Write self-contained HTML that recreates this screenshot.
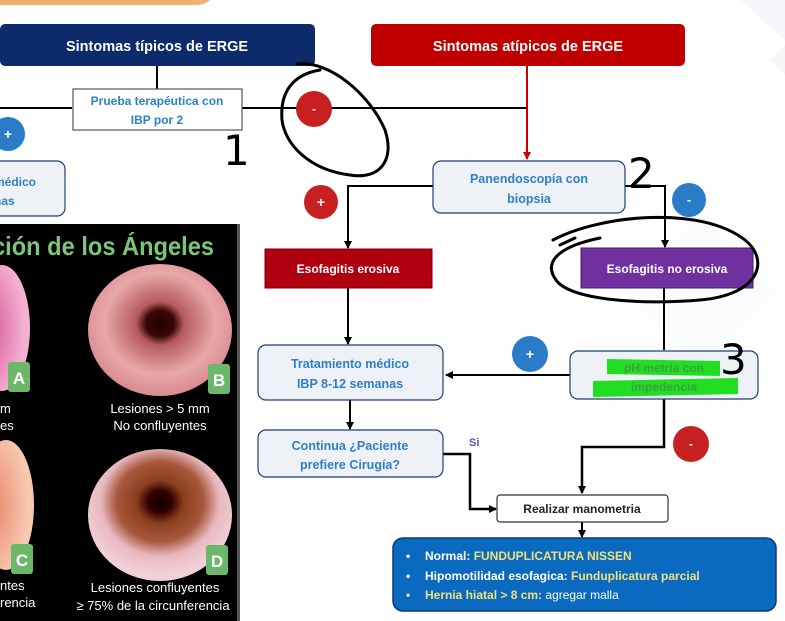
<!DOCTYPE html>
<html><head><meta charset="utf-8"><style>
html,body{margin:0;padding:0;background:#fff;}
svg{display:block;font-family:"Liberation Sans",sans-serif;}
</style></head><body>
<svg width="785" height="621" viewBox="0 0 785 621" xmlns="http://www.w3.org/2000/svg">
<defs>
<marker id="ah" markerWidth="8" markerHeight="8" refX="7" refY="4" orient="auto" markerUnits="userSpaceOnUse"><path d="M0,0 L8,4 L0,8 z" fill="#000"/></marker>
<marker id="ahr" markerWidth="8" markerHeight="8" refX="7" refY="4" orient="auto" markerUnits="userSpaceOnUse"><path d="M0,0 L8,4 L0,8 z" fill="#c00"/></marker>
<radialGradient id="gB" cx="50%" cy="45%" r="55%"><stop offset="0" stop-color="#200"/><stop offset="0.18" stop-color="#3a0808"/><stop offset="0.3" stop-color="#b55a5a"/><stop offset="0.7" stop-color="#e8a8a8"/><stop offset="1" stop-color="#d88a90"/></radialGradient>
<radialGradient id="gD" cx="50%" cy="40%" r="55%"><stop offset="0" stop-color="#100"/><stop offset="0.15" stop-color="#300"/><stop offset="0.3" stop-color="#8a4020"/><stop offset="0.55" stop-color="#a8583a"/><stop offset="0.75" stop-color="#e8b8c0"/><stop offset="1" stop-color="#f2d0d8"/></radialGradient>
<radialGradient id="gA" cx="30%" cy="50%" r="60%"><stop offset="0" stop-color="#d85a98"/><stop offset="1" stop-color="#f4b0d0"/></radialGradient>
<radialGradient id="gC" cx="30%" cy="50%" r="60%"><stop offset="0" stop-color="#e88a70"/><stop offset="1" stop-color="#f8c8b0"/></radialGradient>
</defs>
<g fill="#f5f7fb">
<path d="M740 0 L785 40 L785 0z"/><path d="M700 210 L780 290 L700 370 L620 290z" opacity="0.4"/><path d="M770 60 L785 75 L785 45z"/>
</g>
<path d="M0 0 H210 Q205 5 195 5 H0z" fill="#f0b070"/>

<g stroke="#000" stroke-width="2" fill="none">
<line x1="157" y1="66" x2="157" y2="89"/>
<line x1="0" y1="108" x2="72" y2="108"/>
<line x1="242" y1="108" x2="526" y2="108"/>
<polyline points="433,186 348,186 348,248" marker-end="url(#ah)"/>
<polyline points="625,186 665,186 665,247" marker-end="url(#ah)"/>
<line x1="348" y1="287" x2="348" y2="344" marker-end="url(#ah)"/>
<line x1="664" y1="288" x2="664" y2="350"/>
<line x1="570" y1="375" x2="446" y2="375" marker-end="url(#ah)"/>
<line x1="350" y1="400" x2="350" y2="429" marker-end="url(#ah)"/>
<polyline points="664,399 664,447 582,447 582,493" marker-end="url(#ah)" stroke-width="2.5"/>
<polyline points="443,454 470,454 470,509 496,509" marker-end="url(#ah)" stroke-width="2.5"/>
<line x1="582" y1="522" x2="582" y2="537" marker-end="url(#ah)"/>
</g>
<line x1="527" y1="66" x2="527" y2="159" stroke="#c00" stroke-width="2" marker-end="url(#ahr)"/>

<rect x="0" y="24" width="315" height="42" rx="5" fill="#0d2a6a"/>
<text x="157" y="51" font-size="14.5" font-weight="bold" fill="#fff" text-anchor="middle">Sintomas típicos de ERGE</text>
<rect x="371" y="24" width="314" height="42" rx="5" fill="#c00000"/>
<text x="528" y="51" font-size="14.5" font-weight="bold" fill="#fff" text-anchor="middle">Sintomas atípicos de ERGE</text>

<rect x="73" y="89" width="169" height="41" fill="#fff" stroke="#555" stroke-width="1.2"/>
<text x="157" y="105" font-size="12" font-weight="bold" fill="#2e80c8" text-anchor="middle">Prueba terapéutica con</text>
<text x="157" y="124" font-size="12" font-weight="bold" fill="#2e80c8" text-anchor="middle">IBP por 2</text>

<circle cx="314" cy="109" r="18" fill="#c82020"/><text x="314" y="113" font-size="12" font-weight="bold" fill="#fff" text-anchor="middle">-</text>
<circle cx="8" cy="134" r="17" fill="#2a7cc8"/><text x="8" y="139" font-size="14" font-weight="bold" fill="#fff" text-anchor="middle">+</text>

<rect x="-10" y="161" width="75" height="55" rx="8" fill="#eef1f6" stroke="#1f3f7a" stroke-width="1.2"/>
<text x="-6" y="186" font-size="12" font-weight="bold" fill="#2e80c8">médico</text>
<text x="-6" y="205" font-size="12" font-weight="bold" fill="#2e80c8">nas</text>

<rect x="433" y="161" width="192" height="52" rx="8" fill="#eef1f6" stroke="#1f3f7a" stroke-width="1.2"/>
<text x="529" y="183" font-size="12.5" font-weight="bold" fill="#2e80c8" text-anchor="middle">Panendoscopía con</text>
<text x="529" y="203" font-size="12.5" font-weight="bold" fill="#2e80c8" text-anchor="middle">biopsia</text>

<circle cx="321" cy="202" r="17" fill="#c82020"/><text x="321" y="207" font-size="14" font-weight="bold" fill="#fff" text-anchor="middle">+</text>
<circle cx="689" cy="200" r="17" fill="#2a7cc8"/><text x="689" y="204" font-size="12" font-weight="bold" fill="#fff" text-anchor="middle">-</text>

<rect x="265" y="249" width="167" height="39" fill="#b00010" stroke="#700" stroke-width="1"/>
<text x="348" y="273" font-size="12" font-weight="bold" fill="#fff" text-anchor="middle">Esofagitis erosiva</text>
<rect x="581" y="248" width="172" height="40" fill="#7030a0" stroke="#402060" stroke-width="1"/>
<text x="667" y="273" font-size="12" font-weight="bold" fill="#fff" text-anchor="middle">Esofagitis no erosiva</text>

<rect x="258" y="345" width="185" height="55" rx="8" fill="#eef1f6" stroke="#1f3f7a" stroke-width="1.2"/>
<text x="350" y="368" font-size="12.5" font-weight="bold" fill="#2e80c8" text-anchor="middle">Tratamiento médico</text>
<text x="350" y="388" font-size="12.5" font-weight="bold" fill="#2e80c8" text-anchor="middle">IBP 8-12 semanas</text>

<circle cx="530" cy="354" r="18" fill="#2a7cc8"/><text x="530" y="359" font-size="14" font-weight="bold" fill="#fff" text-anchor="middle">+</text>

<rect x="570" y="351" width="188" height="48" rx="8" fill="#eef1f6" stroke="#1f3f7a" stroke-width="1.2"/>
<path d="M607 359 L720 361 L720 376 L607 374z" fill="#22dd22"/>
<path d="M593 381 L738 378 L738 394 L593 397z" fill="#22dd22"/>
<text x="664" y="372" font-size="12" font-weight="bold" fill="#3aa040" text-anchor="middle">pH metria con</text>
<text x="664" y="391" font-size="12" font-weight="bold" fill="#3aa040" text-anchor="middle">impedencia</text>

<circle cx="691" cy="444" r="18" fill="#c82020"/><text x="691" y="448" font-size="12" font-weight="bold" fill="#fff" text-anchor="middle">-</text>

<rect x="258" y="430" width="185" height="47" rx="8" fill="#eef1f6" stroke="#1f3f7a" stroke-width="1.2"/>
<text x="350" y="450" font-size="12.5" font-weight="bold" fill="#2e80c8" text-anchor="middle">Continua ¿Paciente</text>
<text x="350" y="469" font-size="12.5" font-weight="bold" fill="#2e80c8" text-anchor="middle">prefiere Cirugía?</text>
<text x="469" y="446" font-size="11" font-weight="bold" fill="#5050c0">Si</text>

<rect x="497" y="495" width="171" height="27" rx="3" fill="#fff" stroke="#333" stroke-width="1.2"/>
<text x="582" y="513" font-size="12" font-weight="bold" fill="#222" text-anchor="middle">Realizar manometria</text>

<rect x="393" y="538" width="383" height="73" rx="10" fill="#0a6ac0" stroke="#0a3a70" stroke-width="1.5"/>
<g font-size="12" font-weight="bold">
<text x="406" y="560" fill="#fff">•</text><text x="425" y="560"><tspan fill="#fff">Normal: </tspan><tspan fill="#f0e080">FUNDUPLICATURA NISSEN</tspan></text>
<text x="406" y="580" fill="#fff">•</text><text x="425" y="580"><tspan fill="#fff">Hipomotilidad esofagica: </tspan><tspan fill="#f0e080">Funduplicatura parcial</tspan></text>
<text x="406" y="599" fill="#f0e080">•</text><text x="425" y="599"><tspan fill="#f0e080">Hernia hiatal &gt; 8 cm: </tspan><tspan fill="#fff" font-weight="normal"> agregar malla</tspan></text>
</g>

<rect x="0" y="224" width="239" height="397" fill="#000"/>
<rect x="237" y="224" width="3" height="397" fill="#555"/>
<text x="-8" y="255" font-size="26" font-weight="bold" fill="#7cc47a" textLength="222" lengthAdjust="spacingAndGlyphs">ción de los Ángeles</text>
<ellipse cx="2" cy="328" rx="28" ry="63" fill="url(#gA)"/>
<ellipse cx="160" cy="330" rx="72" ry="66" fill="url(#gB)"/>
<ellipse cx="6" cy="505" rx="28" ry="65" fill="url(#gC)"/>
<ellipse cx="160" cy="515" rx="72" ry="66" fill="url(#gD)"/>
<g font-size="17" font-weight="bold" fill="#fff" text-anchor="middle">
<rect x="8" y="362" width="22" height="30" rx="3" fill="#6cb86a"/><text x="19" y="384">A</text>
<rect x="208" y="364" width="22" height="30" rx="3" fill="#6cb86a"/><text x="219" y="386">B</text>
<rect x="11" y="544" width="22" height="30" rx="3" fill="#6cb86a"/><text x="22" y="566">C</text>
<rect x="206" y="545" width="22" height="30" rx="3" fill="#6cb86a"/><text x="217" y="567">D</text>
</g>
<g font-size="13" fill="#fff">
<text x="0" y="413">m</text><text x="0" y="430">es</text>
<text x="160" y="413" text-anchor="middle">Lesiones &gt; 5 mm</text>
<text x="160" y="430" text-anchor="middle">No confluyentes</text>
<text x="0" y="590">ntes</text><text x="0" y="607">rencia</text>
<text x="155" y="592" text-anchor="middle">Lesiones confluyentes</text>
<text x="153" y="610" text-anchor="middle">≥ 75% de la circunferencia</text>
</g>

<g stroke="#000" stroke-width="3" fill="none" stroke-linecap="round">
<path d="M297 64 C330 60 370 95 385 130 C395 160 380 180 350 175 C310 170 285 145 282 120 C280 95 290 75 320 70"/>
<path d="M553 240 C600 215 700 205 745 240 C770 260 760 295 700 300 C640 305 570 300 556 280 C545 265 552 248 600 238"/>
<path d="M560 245 L575 238"/>
</g>
<g font-family="'DejaVu Sans',sans-serif" font-size="42" fill="#000">
<text x="223" y="165">1</text>
<text x="628" y="188">2</text>
<text x="720" y="374">3</text>
</g>
</svg>
</body></html>
